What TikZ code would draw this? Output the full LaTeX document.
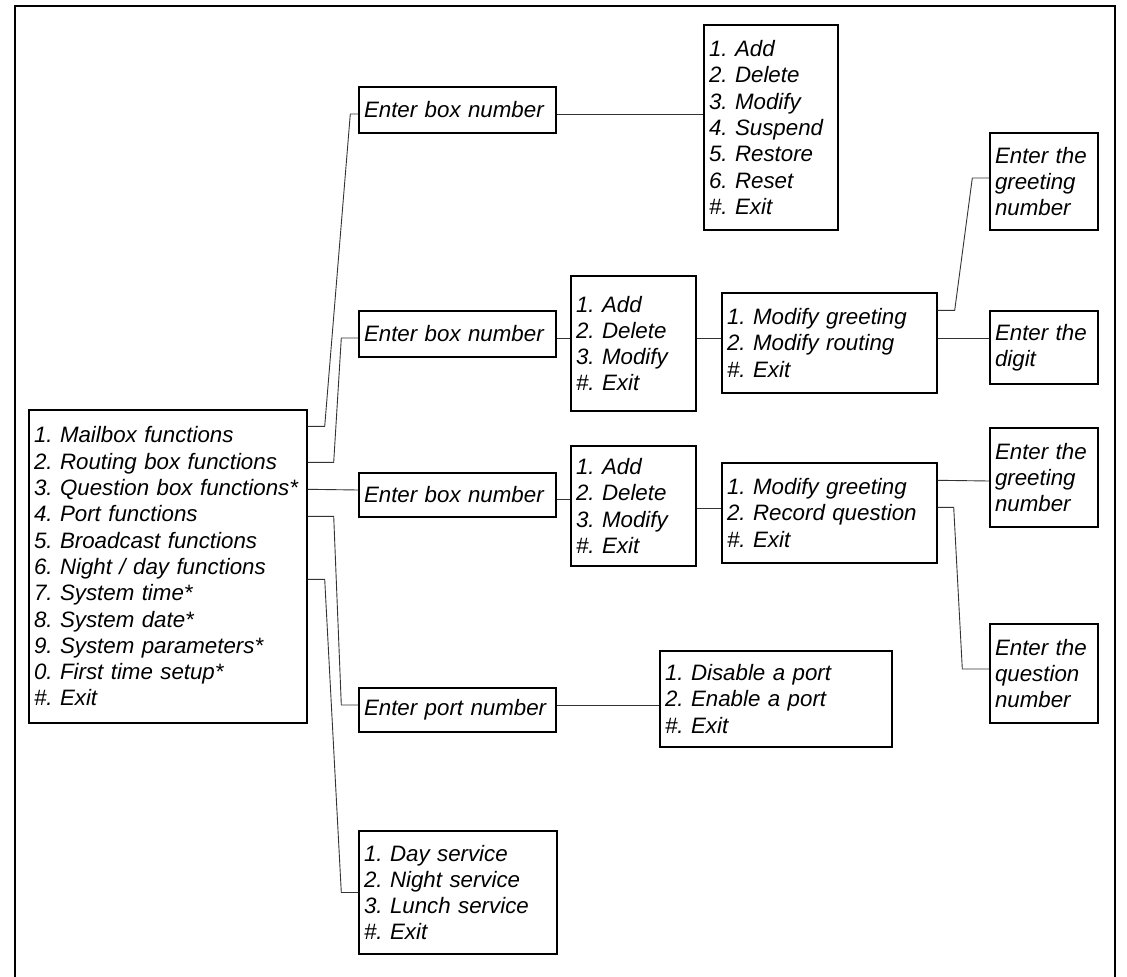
\documentclass[tikz,border=0pt]{standalone}
\usepackage{fontspec}
\setmainfont{Liberation Sans}
\usetikzlibrary{calc}
\frenchspacing
\begin{document}
\begin{tikzpicture}[x=1pt,y=-1pt]
  \useasboundingbox (0,0) rectangle (1127,977);
  \draw[line width=2.2pt] (15,977) -- (15,6) -- (1115,6) -- (1115,977);
  \begin{scope}
    \tikzstyle{every node}=[draw,line width=1.4pt,rectangle,inner xsep=5pt,inner ysep=0pt,
      align=left,font=\fontsize{22.3}{26.3}\selectfont\itshape]
  \node[text width=268pt,minimum height=313pt] (main) at (168,566.5)
    {1. Mailbox functions\\2. Routing box functions\\3. Question box functions*\\
     4. Port functions\\5. Broadcast functions\\6. Night / day functions\\
     7. System time*\\8. System date*\\9. System parameters*\\0. First time setup*\\\#. Exit};
  \node[text width=187pt,minimum height=46pt] (eb1) at (457.5,110) {Enter box number};
  \node[text width=124pt,minimum height=205pt] (mbox) at (771,127.5)
    {1. Add\\2. Delete\\3. Modify\\4. Suspend\\5. Restore\\6. Reset\\\#. Exit};
  \node[text width=187pt,minimum height=46pt] (eb2) at (457.5,334) {Enter box number};
  \node[text width=115pt,minimum height=135pt] (rbox) at (633.5,343.5)
    {1. Add\\2. Delete\\3. Modify\\\#. Exit};
  \node[text width=205pt,minimum height=100pt] (rmod) at (829.5,343)
    {1. Modify greeting\\2. Modify routing\\\#. Exit};
  \node[text width=98pt,minimum height=97pt] (rgreet) at (1044,181.5)
    {Enter the\\greeting\\number};
  \node[text width=98pt,minimum height=73pt] (digit) at (1044,347.5)
    {Enter the\\digit};
  \node[text width=187pt,minimum height=44pt] (eb3) at (457.5,495) {Enter box number};
  \node[text width=115pt,minimum height=120pt] (qbox) at (633.5,506)
    {1. Add\\2. Delete\\3. Modify\\\#. Exit};
  \node[text width=205pt,minimum height=100pt] (qmod) at (829.5,513)
    {1. Modify greeting\\2. Record question\\\#. Exit};
  \node[text width=98pt,minimum height=99pt] (qgreet) at (1044,477.5)
    {Enter the\\greeting\\number};
  \node[text width=98pt,minimum height=99pt] (quest) at (1044,673.5)
    {Enter the\\question\\number};
  \node[text width=187pt,minimum height=44pt] (port) at (457.5,710) {Enter port number};
  \node[text width=222pt,minimum height=96pt] (pmenu) at (776,699)
    {1. Disable a port\\2. Enable a port\\\#. Exit};
  \node[text width=188pt,minimum height=123pt] (night) at (458,892.5)
    {1. Day service\\2. Night service\\3. Lunch service\\\#. Exit};
  \end{scope}
  \tikzstyle{wire}=[line width=0.9pt,black!80]
  \draw[wire] ($(main.north east)+(0,17)$) -- ++(17,0) -- ($(eb1.west)+(-8,4)$) -- ($(eb1.west)+(0,4)$);
  \draw[wire] ($(main.north east)+(0,53)$) -- ++(26,0) -- ($(eb2.west)+(-17,4)$) -- ($(eb2.west)+(0,4)$);
  \draw[wire] ($(main.north east)+(0,80)$) -- ($(eb3.west)+(0,-5)$);
  \draw[wire] ($(main.north east)+(0,107)$) -- ++(26,0) -- ($(port.west)+(-17,-5)$) -- ($(port.west)+(0,-5)$);
  \draw[wire] ($(main.north east)+(0,170)$) -- ++(17,0) -- ($(night.west)+(-17,0)$) -- (night.west);
  \draw[wire] ($(eb1.east)+(0,4)$) -- ($(mbox.west)+(0,-13.5)$);
  \draw[wire] ($(eb2.east)+(0,4)$) -- ($(rbox.west)+(0,-5.5)$);
  \draw[wire] ($(rbox.east)+(0,-5.5)$) -- ($(rmod.west)+(0,-5)$);
  \draw[wire] ($(rmod.north east)+(0,18)$) -- ++(17,0) -- ($(rgreet.west)+(-17,-3.5)$) -- ($(rgreet.west)+(0,-3.5)$);
  \draw[wire] ($(rmod.east)+(0,-5)$) -- ($(digit.west)+(0,-9.5)$);
  \draw[wire] ($(eb3.east)+(0,4)$) -- ($(qbox.west)+(0,-7)$);
  \draw[wire] ($(qbox.east)+(0,2)$) -- ($(qmod.west)+(0,-5)$);
  \draw[wire] ($(qmod.north east)+(0,18)$) -- ($(qgreet.west)+(0,3.5)$);
  \draw[wire] ($(qmod.north east)+(0,45)$) -- ++(16,0) -- ($(quest.west)+(-27,-4.5)$) -- ($(quest.west)+(0,-4.5)$);
  \draw[wire] ($(port.east)+(0,-5)$) -- ($(pmenu.west)+(0,6)$);
\end{tikzpicture}
\end{document}
